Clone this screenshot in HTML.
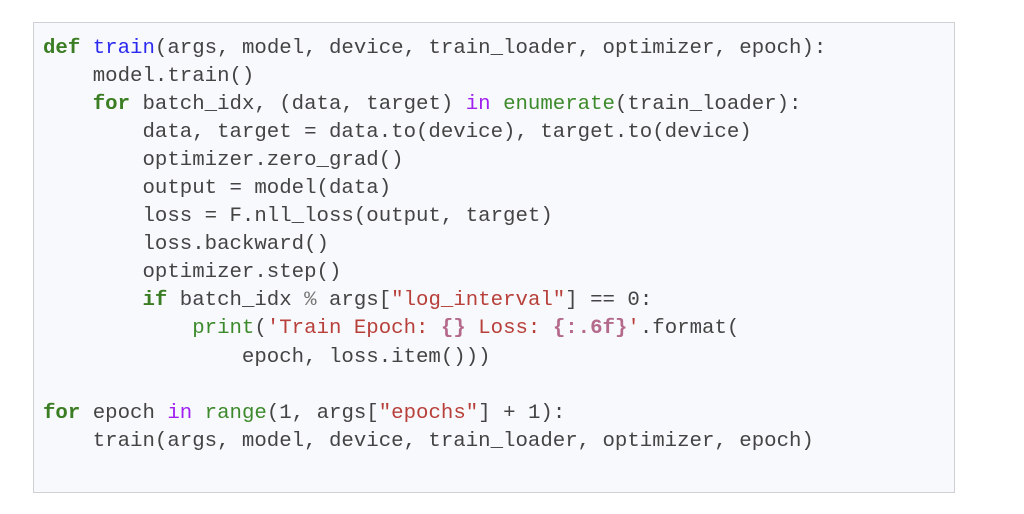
<!DOCTYPE html>
<html><head><style>
html,body{margin:0;padding:0;background:#fff;width:1024px;height:514px;overflow:hidden}
.box{position:absolute;left:33px;top:22px;width:920px;height:469px;border:1px solid #cfd0d4;background:#f8f9fc}
pre{position:absolute;left:43px;top:35px;margin:0;font-family:"Liberation Mono",monospace;font-size:20.72px;line-height:28.05px;color:#444}
.k{color:#3b7d23;font-weight:bold}
.f{color:#2b2bf0}
.b{color:#3d8a2c}
.s{color:#b8403a}
.i{color:#b46a8c;font-weight:bold}
.p{color:#a020f0}
.o{color:#777}
</style></head><body>
<div class="box"></div>
<pre><span class="k">def</span> <span class="f">train</span>(args, model, device, train_loader, optimizer, epoch):
    model.train()
    <span class="k">for</span> batch_idx, (data, target) <span class="p">in</span> <span class="b">enumerate</span>(train_loader):
        data, target = data.to(device), target.to(device)
        optimizer.zero_grad()
        output = model(data)
        loss = F.nll_loss(output, target)
        loss.backward()
        optimizer.step()
        <span class="k">if</span> batch_idx <span class="o">%</span> args[<span class="s">"log_interval"</span>] == 0:
            <span class="b">print</span>(<span class="s">'Train Epoch: </span><span class="i">{}</span><span class="s"> Loss: </span><span class="i">{:.6f}</span><span class="s">'</span>.format(
                epoch, loss.item()))

<span class="k">for</span> epoch <span class="p">in</span> <span class="b">range</span>(1, args[<span class="s">"epochs"</span>] + 1):
    train(args, model, device, train_loader, optimizer, epoch)
</pre>
</body></html>
